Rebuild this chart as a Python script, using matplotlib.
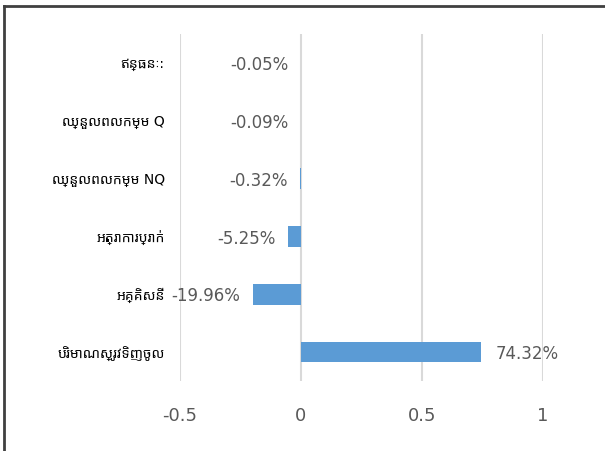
import matplotlib
matplotlib.use("Agg")
import matplotlib.pyplot as plt
from matplotlib.lines import Line2D

# Sensitivity results (bottom to top, as in the sheet)
categories = ["បរិមាណស្រូវទិញចូល", "អគ្គិសនី", "អត្រាការប្រាក់",
              "ឈ្នួលពលកម្ម NQ", "ឈ្នួលពលកម្ម Q", "ឥន្ធនៈ:"]
values = [0.7432, -0.1996, -0.0525, -0.0032, -0.0009, -0.0005]
xticks = [-0.5, 0, 0.5, 1]
xtick_labels = ["-0.5", "0", "0.5", "1"]

text_gray = "#595959"
bar_blue = "#5b9bd5"

fig = plt.figure(figsize=(6.05, 4.51), dpi=100)
ax = fig.add_axes([0.2975, 0.1552, 0.6, 0.7694])

pos = range(len(categories))
ax.barh(pos, values, height=0.36, color=bar_blue, zorder=3)

# data labels outside the bar end
for y, v in zip(pos, values):
    off = 11 if v >= 0 else -9
    ax.annotate(f"{v * 100:.2f}%", (v, y), xytext=(off, -1.5), textcoords="offset points",
                ha="left" if v >= 0 else "right", va="center",
                fontsize=12, color=text_gray, family="DejaVu Sans")

ax.set_xlim(-0.5, 1)
ax.set_ylim(-0.5, len(categories) - 0.5)
ax.set_xticks(xticks)
ax.set_xticklabels(xtick_labels, fontsize=13, color=text_gray)
ax.set_yticks(list(pos))
ax.set_yticklabels(categories, fontsize=10, color="black",
                   family=["DejaVu Sans", "Noto Sans Khmer"])
ax.tick_params(axis="x", length=0, pad=19)
ax.tick_params(axis="y", length=0, pad=11)
ax.grid(axis="x", color="#d9d9d9", linewidth=1.5, zorder=0)
for s in ax.spines.values():
    s.set_visible(False)

# cropped chart border (top and left only)
fig.add_artist(Line2D([4 / 605, 1], [1 - 6 / 451, 1 - 6 / 451], color="#404040", lw=2))
fig.add_artist(Line2D([4 / 605, 4 / 605], [0, 1 - 6 / 451], color="#404040", lw=2))

fig.savefig("out.png", dpi=100)
